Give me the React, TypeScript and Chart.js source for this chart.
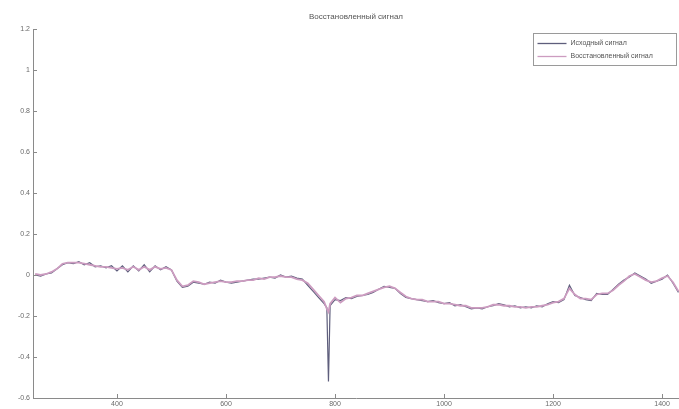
import React, { useEffect, useRef } from "react";
import { Chart, registerables } from "chart.js";

Chart.register(...registerables);

const TITLE = "Восстановленный сигнал";
const SERIES_NAMES = ["Исходный сигнал", "Восстановленный сигнал"];

// Sample positions
const samples = [
  250, 260, 270, 280, 290, 300, 310, 320, 330, 340, 350, 360, 370, 380, 390, 400,
  410, 420, 430, 440, 450, 460, 470, 480, 490, 500, 510, 520, 530, 540, 550, 560,
  570, 580, 590, 600, 610, 620, 630, 640, 650, 660, 670, 680, 690, 700, 710, 720,
  730, 740, 750, 760, 770, 780, 785, 788, 791, 800, 810, 820, 830, 840, 850, 860,
  870, 880, 890, 900, 910, 920, 930, 940, 950, 960, 970, 980, 990, 1000, 1010, 1020,
  1030, 1040, 1050, 1060, 1070, 1080, 1090, 1100, 1110, 1120, 1130, 1140, 1150, 1160,
  1170, 1180, 1190, 1200, 1210, 1220, 1230, 1240, 1250, 1260, 1270, 1280, 1290, 1300,
  1310, 1320, 1330, 1340, 1350, 1360, 1370, 1380, 1390, 1400, 1410, 1420, 1430,
];

// Original signal
const originalSignal = [
  0.0, -0.005, 0.005, 0.01, 0.03, 0.05, 0.06, 0.055, 0.065, 0.05, 0.06, 0.04, 0.045, 0.035, 0.045, 0.02,
  0.045, 0.015, 0.045, 0.02, 0.05, 0.015, 0.045, 0.025, 0.04, 0.025, -0.03, -0.06, -0.055, -0.035, -0.04, -0.045,
  -0.035, -0.04, -0.025, -0.035, -0.04, -0.035, -0.03, -0.025, -0.02, -0.02, -0.015, -0.01, -0.015, 0.0, -0.01, -0.005,
  -0.015, -0.02, -0.05, -0.08, -0.11, -0.14, -0.16, -0.52, -0.15, -0.12, -0.125, -0.11, -0.115, -0.105, -0.1, -0.095,
  -0.085, -0.07, -0.055, -0.06, -0.065, -0.09, -0.11, -0.115, -0.12, -0.125, -0.13, -0.125, -0.135, -0.14, -0.135, -0.15,
  -0.145, -0.155, -0.165, -0.16, -0.165, -0.155, -0.15, -0.14, -0.145, -0.155, -0.15, -0.16, -0.155, -0.16,
  -0.15, -0.155, -0.14, -0.13, -0.135, -0.12, -0.05, -0.1, -0.11, -0.12, -0.125, -0.09, -0.095, -0.095,
  -0.07, -0.045, -0.025, -0.01, 0.01, -0.005, -0.02, -0.04, -0.03, -0.02, 0.0, -0.04, -0.085,
];

// Restored signal
const restoredSignal = [
  0.005, 0.0, 0.005, 0.015, 0.03, 0.055, 0.06, 0.06, 0.06, 0.055, 0.05, 0.045, 0.04, 0.04, 0.035, 0.03,
  0.035, 0.025, 0.04, 0.025, 0.04, 0.025, 0.04, 0.03, 0.035, 0.025, -0.025, -0.055, -0.05, -0.03, -0.035, -0.045,
  -0.04, -0.035, -0.03, -0.035, -0.035, -0.03, -0.03, -0.025, -0.025, -0.015, -0.02, -0.01, -0.01, -0.005, -0.01, -0.01,
  -0.02, -0.025, -0.04, -0.07, -0.1, -0.13, -0.165, -0.18, -0.14, -0.11, -0.135, -0.115, -0.11, -0.1, -0.1, -0.09,
  -0.08, -0.07, -0.06, -0.055, -0.065, -0.085, -0.105, -0.115, -0.12, -0.12, -0.13, -0.13, -0.13, -0.14, -0.14, -0.145,
  -0.15, -0.15, -0.16, -0.16, -0.16, -0.155, -0.145, -0.145, -0.15, -0.15, -0.155, -0.155, -0.16, -0.155,
  -0.155, -0.15, -0.145, -0.135, -0.13, -0.115, -0.065, -0.095, -0.115, -0.115, -0.12, -0.095, -0.09, -0.09,
  -0.075, -0.05, -0.03, -0.005, 0.005, -0.01, -0.025, -0.035, -0.03, -0.015, -0.005, -0.035, -0.08,
];

const yTicks = [1.2, 1, 0.8, 0.6, 0.4, 0.2, 0, -0.2, -0.4, -0.6];
const xTicks = [400, 600, 800, 1000, 1200, 1400];

const LINE_COLORS = ["#5e5e7c", "#cc9cc0"];
const AXIS_COLOR = "#8a8a8a";
const TEXT_COLOR = "#6a6a6a";
const FONT = "'Liberation Sans', Arial, sans-serif";

// Title, inward tick marks and a boxed legend inside the plot
const decorations = {
  id: "decorations",
  afterDraw(chart: any) {
    const { ctx, chartArea } = chart;
    const xs = chart.scales.x;
    const ys = chart.scales.y;
    ctx.save();

    // inward tick marks
    ctx.strokeStyle = AXIS_COLOR;
    ctx.lineWidth = 1;
    ctx.beginPath();
    for (const t of yTicks) {
      const py = Math.round(ys.getPixelForValue(t)) + 0.5;
      ctx.moveTo(chartArea.left, py);
      ctx.lineTo(chartArea.left + 4, py);
    }
    for (const t of xTicks) {
      const px = Math.round(xs.getPixelForValue(t)) + 0.5;
      ctx.moveTo(px, chartArea.bottom);
      ctx.lineTo(px, chartArea.bottom - 4);
    }
    ctx.stroke();

    // title
    ctx.fillStyle = "#555";
    ctx.font = `8px ${FONT}`;
    ctx.textAlign = "center";
    ctx.textBaseline = "middle";
    ctx.fillText(TITLE, (chartArea.left + chartArea.right) / 2, 17);

    // legend
    const bx = 533.5, by = 33.5, bw = 143, bh = 32;
    ctx.fillStyle = "#ffffff";
    ctx.fillRect(bx, by, bw, bh);
    ctx.strokeStyle = "#9a9a9a";
    ctx.strokeRect(bx, by, bw, bh);
    ctx.font = `7px ${FONT}`;
    ctx.textAlign = "left";
    SERIES_NAMES.forEach((name, i) => {
      const ly = by + 10 + i * 13;
      ctx.strokeStyle = LINE_COLORS[i];
      ctx.lineWidth = 1.3;
      ctx.beginPath();
      ctx.moveTo(bx + 4, ly);
      ctx.lineTo(bx + 33, ly);
      ctx.stroke();
      ctx.fillStyle = "#555";
      ctx.fillText(name, bx + 37, ly);
    });
    ctx.restore();
  },
};

export default function App() {
  const canvasRef = useRef<HTMLCanvasElement | null>(null);

  useEffect(() => {
    const canvas = canvasRef.current;
    if (!canvas) return;
    const toPoints = (vals: number[]) => samples.map((x, i) => ({ x, y: vals[i] }));
    const chart = new Chart(canvas, {
      type: "line",
      data: {
        datasets: [
          {
            label: SERIES_NAMES[1],
            data: toPoints(restoredSignal),
            borderColor: LINE_COLORS[1],
            borderWidth: 1.8,
            pointRadius: 0,
            tension: 0,
            fill: false,
          },
          {
            label: SERIES_NAMES[0],
            data: toPoints(originalSignal),
            borderColor: LINE_COLORS[0],
            borderWidth: 1.2,
            pointRadius: 0,
            tension: 0,
            fill: false,
          },
        ],
      },
      options: {
        responsive: false,
        animation: false,
        layout: { padding: { top: 29, left: 0, right: 0, bottom: 0 } },
        plugins: {
          legend: { display: false },
          title: { display: false },
          tooltip: { enabled: false },
        },
        scales: {
          x: {
            type: "linear",
            min: 246,
            max: 1431,
            afterFit: (s: any) => {
              s.height = 11;
            },
            afterBuildTicks: (s: any) => {
              s.ticks = xTicks.map((v) => ({ value: v }));
            },
            grid: { display: false, drawTicks: false },
            border: { display: true, color: AXIS_COLOR, width: 1 },
            ticks: {
              color: TEXT_COLOR,
              font: { size: 7, family: FONT },
              padding: 2,
              maxRotation: 0,
              autoSkip: false,
              callback: (v: any) => String(v),
            },
          },
          y: {
            min: -0.6,
            max: 1.2,
            afterFit: (s: any) => {
              s.width = 33;
            },
            afterBuildTicks: (s: any) => {
              s.ticks = yTicks.map((v) => ({ value: v }));
            },
            grid: { display: false, drawTicks: false },
            border: { display: true, color: AXIS_COLOR, width: 1 },
            ticks: {
              color: TEXT_COLOR,
              font: { size: 7, family: FONT },
              padding: 3,
              autoSkip: false,
              callback: (v: any) => String(Math.round(Number(v) * 10) / 10),
            },
          },
        },
      },
      plugins: [decorations],
    });
    return () => chart.destroy();
  }, []);

  return (
    <div style={{ position: "fixed", left: 0, top: 0, width: 679, height: 409, background: "#fff" }}>
      <canvas ref={canvasRef} width={679} height={409} />
    </div>
  );
}
